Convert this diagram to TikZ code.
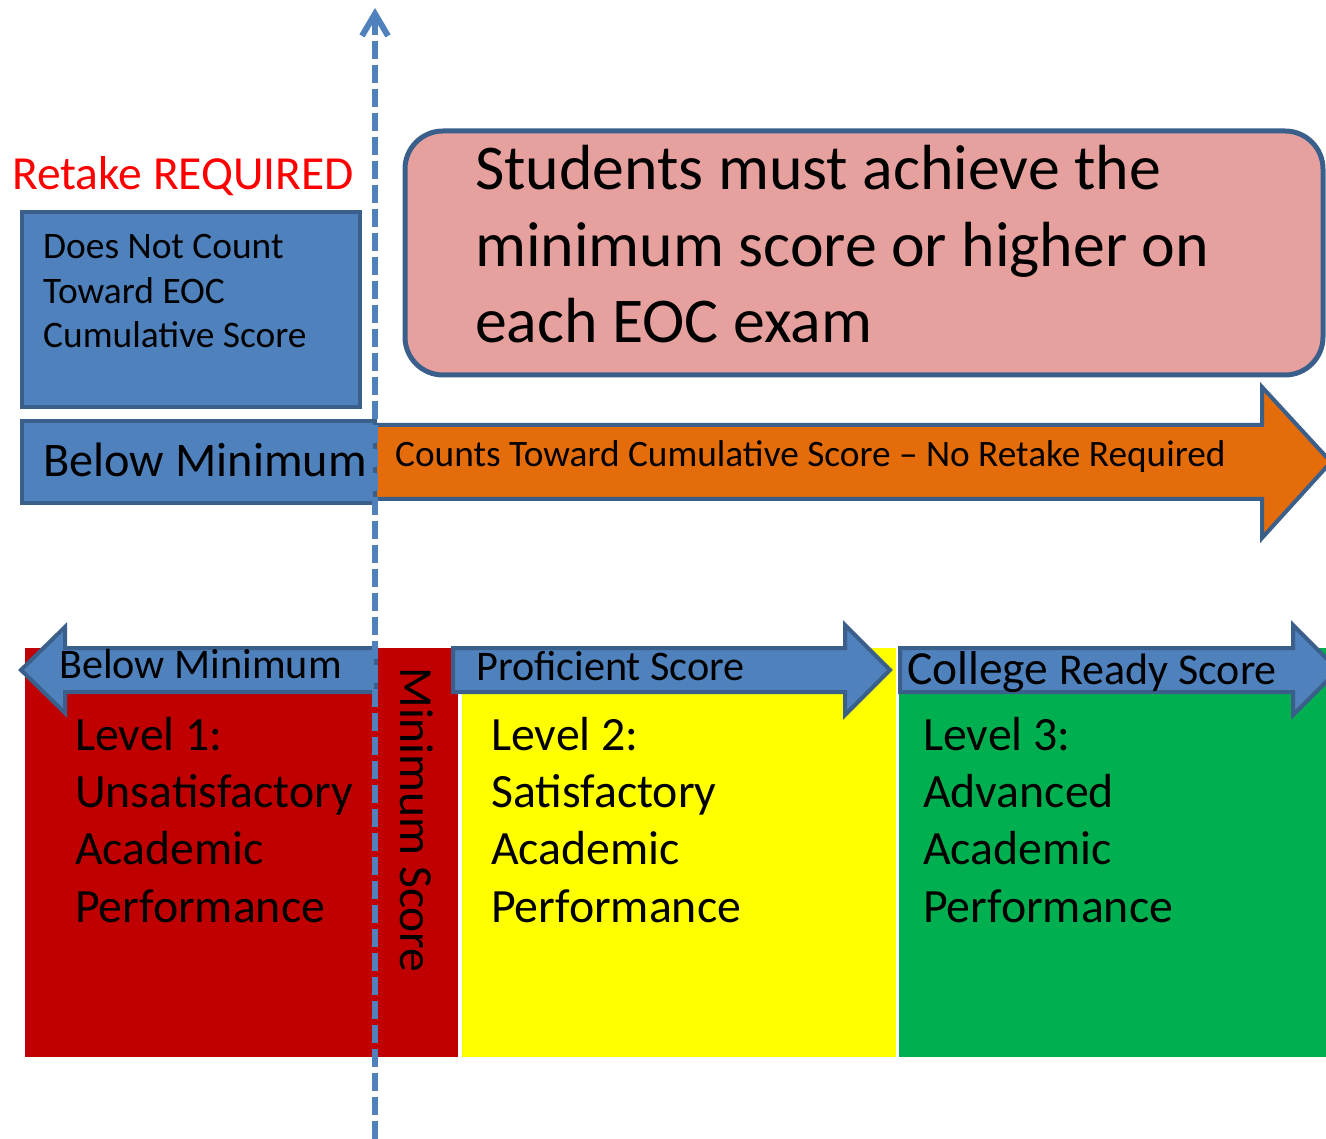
\documentclass[tikz,border=0pt]{standalone}
\usepackage{fontspec}
\setmainfont{Carlito}
\usetikzlibrary{arrows.meta}
\definecolor{boxblue}{HTML}{4F81BD}
\definecolor{edgeblue}{HTML}{3A5F8B}
\definecolor{countorange}{HTML}{E46C0A}
\definecolor{notepink}{HTML}{E6A19F}
\definecolor{lvlred}{HTML}{C00000}
\definecolor{lvlyellow}{HTML}{FFFF00}
\definecolor{lvlgreen}{HTML}{00B050}

\begin{document}
\begin{tikzpicture}[x=1pt, y=-1pt,
	shapeline/.style={draw=edgeblue, line width=4},
	txt/.style={inner sep=0, anchor=base west, align=left},
	lvltxt/.style={txt, font=\fontsize{47.8}{57.3}\selectfont},
	bartxt/.style={txt, font=\fontsize{42.2}{49}\selectfont}]
			%%%%% START %%%%%
			\useasboundingbox (0,0) rectangle (1326,1139);
			\clip (0,0) rectangle (1326,1139);
			
			% level blocks
			\fill[lvlred] (25,648) rectangle (458,1057);
			\fill[lvlyellow] (462,648) rectangle (896,1057);
			\fill[lvlgreen] (899,648) rectangle (1326,1057);
			
			% top boxes (multi-line nodes sit on their last baseline)
			\node[txt, text=red, font=\fontsize{47.5}{56}\selectfont] (retake) at (12,190) {Retake REQUIRED};
			\draw[shapeline, fill=boxblue] (22,212) rectangle (360,407);
			\node[txt, font=\fontsize{37.4}{44.5}\selectfont] (nocount) at (43,348) {Does Not Count\\Toward EOC\\Cumulative Score};
			
			\draw[shapeline, line width=5, fill=notepink, rounded corners=38] (405,131) rectangle (1323,375);
			\node[txt, font=\fontsize{63.8}{76.5}\selectfont] (mustdo) at (475,343) {Students must achieve the\\minimum score or higher on\\each EOC exam};
			
			\draw[shapeline, fill=countorange] (375,425) -- (1262,425) -- (1262,387) -- (1331,462) -- (1262,538) -- (1262,499) -- (375,499) -- cycle;
			\node[txt, font=\fontsize{37.3}{43}\selectfont] (counts) at (395,467) {Counts Toward Cumulative Score -- No Retake Required};
			
			\draw[shapeline, fill=boxblue] (22,421) rectangle (375,503);
			\node[txt, font=\fontsize{48.3}{56}\selectfont] (belowtop) at (43,477) {Below Minimum};
			
			% score arrows
			\draw[shapeline, fill=boxblue] (376,648) -- (65,648) -- (65,627) -- (21,670) -- (65,713) -- (65,692) -- (376,692) -- cycle;
			\node[bartxt] (belowbar) at (59,678) {Below Minimum};
			
			\draw[shapeline, fill=boxblue] (453,648) -- (845,648) -- (845,625) -- (890,670) -- (845,715) -- (845,692) -- (453,692) -- cycle;
			\node[bartxt] (proficient) at (476,680) {Proficient Score};
			
			\draw[shapeline, fill=boxblue] (900,648) -- (1293,648) -- (1293,625) -- (1338,670) -- (1293,715) -- (1293,692) -- (900,692) -- cycle;
			\node[txt] (college) at (907,684) {\fontsize{47.5}{55}\selectfont College \fontsize{44}{50}\selectfont Ready Score};
			
			% level texts
			\node[lvltxt] (level1) at (75,922) {Level 1:\\Unsatisfactory\\Academic\\Performance};
			\node[lvltxt] (level2) at (491,922) {Level 2:\\Satisfactory\\Academic\\Performance};
			\node[lvltxt] (level3) at (923,922) {Level 3:\\Advanced\\Academic\\Performance};
			
			\node[inner sep=0, anchor=base, rotate=-90, font=\fontsize{47.5}{56}\selectfont] (minscore) at (400,820) {Minimum Score};
			
			% minimum score axis
			\coordinate (axisbot) at (375,1139);
			\coordinate (axistop) at (375,8);
			\draw[boxblue, line width=6, dash pattern=on 18 off 6, -{Straight Barb[length=22pt, width=26pt]}] (axisbot) -- (axistop);
			
			%%%%% END %%%%%
\end{tikzpicture}
\end{document}
